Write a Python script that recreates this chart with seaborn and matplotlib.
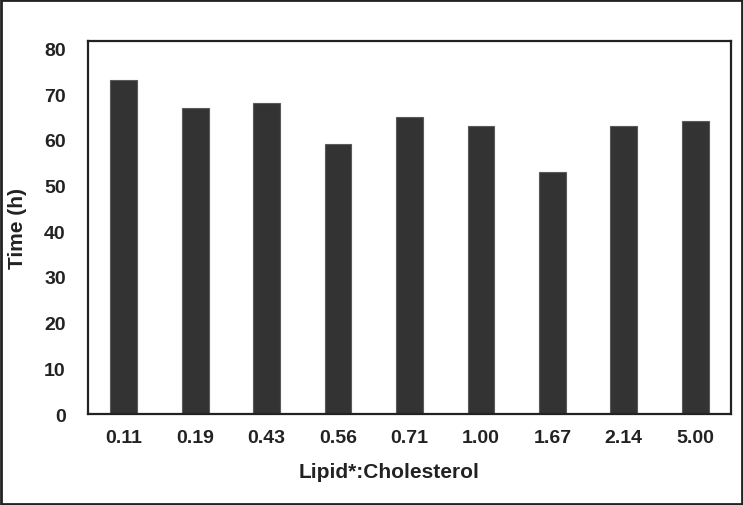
import pandas as pd
import seaborn as sns
import matplotlib.pyplot as plt
from matplotlib.patches import Rectangle

# --- data ---
ratios = ["0.11", "0.19", "0.43", "0.56", "0.71", "1.00", "1.67", "2.14", "5.00"]
time_h = [73, 67, 68, 59, 65, 63, 53, 63, 64]

df = pd.DataFrame({"ratio": ratios, "time": time_h})

# --- style ---
sns.set_style("white")
plt.rcParams["font.family"] = ["Liberation Sans", "DejaVu Sans"]
plt.rcParams["font.weight"] = "bold"

fig = plt.figure(figsize=(7.43, 5.06), dpi=100)
ax = fig.add_axes([0.1184, 0.1798, 0.9838 - 0.1184, 0.917 - 0.1798])

sns.barplot(data=df, x="ratio", y="time", color="#333333", saturation=1,
            width=0.375, edgecolor="#5a5a5a", linewidth=0.8, ax=ax)

ax.set_ylim(0, 81.6)
ax.set_yticks(range(0, 81, 10))
ax.set_xlim(-0.5, 8.5)

for s in ax.spines.values():
    s.set_visible(True)
    s.set_color("#222222")
    s.set_linewidth(1.6)

ax.tick_params(axis="y", length=0, pad=16, labelsize=14, labelcolor="#222222")
ax.tick_params(axis="x", length=0, pad=11, labelsize=14, labelcolor="#222222")
for lab in ax.get_xticklabels() + ax.get_yticklabels():
    lab.set_fontweight("bold")

ax.set_xlabel("Lipid*:Cholesterol", fontsize=15, fontweight="bold", color="#222222")
ax.set_ylabel("Time (h)", fontsize=15, fontweight="bold", color="#222222")
ax.xaxis.set_label_coords(0.469, -0.153)
ax.yaxis.set_label_coords(-0.109, 0.5)
ax.xaxis.label.set_va("center")
ax.yaxis.label.set_va("center")

# outer frame around the whole figure
fig.patches.append(Rectangle((0.0015, 0.002), 0.997, 0.996, transform=fig.transFigure,
                             fill=False, edgecolor="#222222", linewidth=2))

fig.savefig("out.png", dpi=100)
